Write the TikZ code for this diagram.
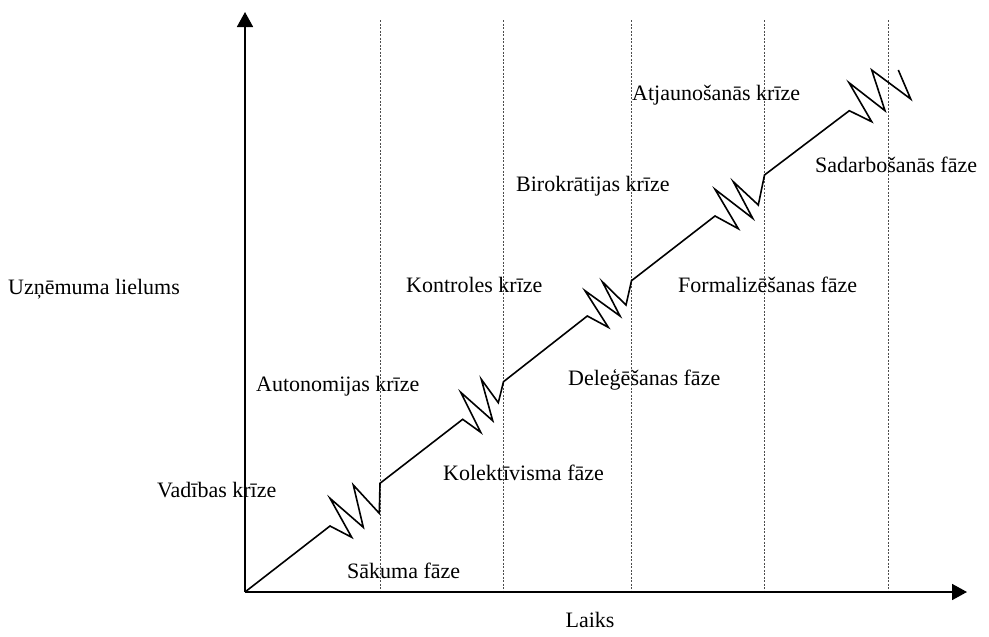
\documentclass[tikz,border=0pt]{standalone}
\usepackage{fontspec}
\setmainfont{Liberation Serif}
\usetikzlibrary{arrows.meta}
\begin{document}
\begin{tikzpicture}[x=1pt,y=-1pt,
  axis/.style={line width=1.8pt,-{Triangle[length=15pt,width=16pt]}},
  guide/.style={line width=0.9pt,draw=black!70,dash pattern=on 2pt off 1.5pt},
  curve/.style={line width=1.6pt,line join=miter},
  lbl/.style={anchor=west,inner sep=0pt,font=\fontsize{22}{26}\selectfont}]
\useasboundingbox (0,0) rectangle (989,637);
\coordinate (O) at (245,592);
\coordinate (Ytip) at (245,12);
\coordinate (Xtip) at (967,592);
% guides
\foreach \x/\n in {380/g1,503/g2,631/g3,764/g4,888/g5}{
  \coordinate (\n t) at (\x,20);
  \coordinate (\n b) at (\x,592);
  \draw[guide] (\n t) -- (\n b);
}
% growth curve
\draw[curve] (O) -- (330,526) -- (351.7,537.3) -- (330,498.3) -- (363.3,527.3) -- (353.3,485) -- (379.3,513.3) -- (380,483.3)
  -- (462.7,419.3) -- (480.7,432.3) -- (460.7,392.3) -- (492.7,420.7) -- (481.3,379.3) -- (498.3,402.7) -- (503.5,381.7)
  -- (587.3,316) -- (608.3,327.3) -- (585,290.7) -- (620,316) -- (602.3,281.7) -- (626,305) -- (631.5,280.7)
  -- (715,216) -- (738.3,228.7) -- (715,189.3) -- (752.7,218.3) -- (733.3,181.7) -- (758.3,205) -- (764.5,175)
  -- (849.3,110.7) -- (871.7,121.7) -- (849,82.7) -- (885,110.7) -- (871.7,70) -- (910.7,99) -- (898.3,70);
% axes
\draw[axis] (O) -- (Ytip);
\draw[axis] (O) -- (Xtip);
% labels
\node[lbl] (ylab) at (8,289) {Uzņēmuma lielums};
\node[anchor=center,inner sep=0pt,font=\fontsize{22}{26}\selectfont] (xlab) at (590,620) {Laiks};
\node[lbl] (c1) at (157,490) {Vadības krīze};
\node[lbl] (f1) at (347,571) {Sākuma fāze};
\node[lbl] (c2) at (256,386) {Autonomijas krīze};
\node[lbl] (f2) at (443,473) {Kolektīvisma fāze};
\node[lbl] (c3) at (406,285) {Kontroles krīze};
\node[lbl] (f3) at (568,380) {Deleģēšanas fāze};
\node[lbl] (c4) at (516,186) {Birokrātijas krīze};
\node[lbl] (f4) at (678,285) {Formalizēšanas fāze};
\node[lbl] (c5) at (632,95) {Atjaunošanās krīze};
\node[lbl] (f5) at (815,165) {Sadarbošanās fāze};
\end{tikzpicture}
\end{document}
